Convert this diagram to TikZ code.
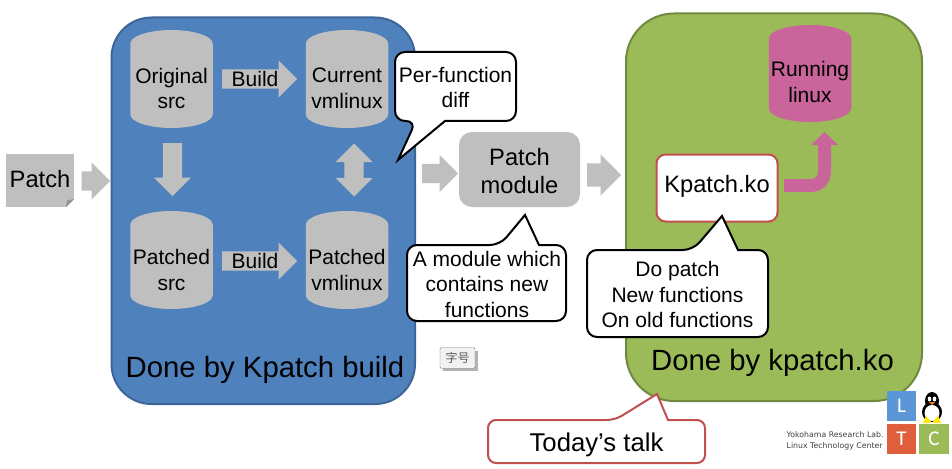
\documentclass[tikz,border=0pt]{standalone}
\usepackage{fontspec}
\setmainfont{Liberation Sans}
\newfontfamily\cjkfont{Noto Sans CJK SC}
\newfontfamily\logofont{Carlito}
\newfontfamily\labfont{DejaVu Sans}
\usetikzlibrary{arrows.meta,shapes.geometric,shapes.arrows}
\definecolor{graybox}{HTML}{BFBFBF}
\definecolor{bluebox}{HTML}{4F81BD}
\definecolor{blueedge}{HTML}{3E659A}
\definecolor{greenbox}{HTML}{9BBB59}
\definecolor{greenedge}{HTML}{71893F}
\definecolor{pinkbox}{HTML}{C9659A}
\definecolor{rededge}{HTML}{C0504D}
\definecolor{logoblue}{HTML}{5B96D6}
\definecolor{logored}{HTML}{DD5F3B}
\tikzset{
  area/.style={line width=2pt,rounded corners=40pt},
  drum/.style={cylinder,shape border rotate=90,shape aspect=.55,draw=none,fill=graybox,text width=50pt,text height=20pt,minimum height=98pt,minimum width=82.5pt,inner sep=0pt,anchor=shape center},
  blockarrow/.style={single arrow,fill=graybox,draw=none,inner xsep=0pt,inner ysep=9.5pt,minimum width=37pt,single arrow head extend=9pt,anchor=tail},
  callblack/.style={draw=black,fill=white,line width=2pt,rounded corners=10pt,line join=miter},
  callred/.style={draw=rededge,fill=white,line width=2pt,rounded corners=8pt,line join=miter},
  txt/.style={inner sep=0pt,align=center,font=\fontsize{21}{25.5}\selectfont},
  bigtxt/.style={inner sep=0pt,align=center,font=\fontsize{23.7}{28}\selectfont},
  donetxt/.style={inner sep=0pt,font=\fontsize{29.3}{32}\selectfont},
  logosq/.style={minimum width=29.5pt,minimum height=30pt,inner sep=0pt,text=white,font=\logofont\fontsize{21}{21}\selectfont}
}
\begin{document}
\begin{tikzpicture}[x=1pt,y=-1pt]
\useasboundingbox (0,0) rectangle (952,468);

\draw[area,draw=blueedge,fill=bluebox] (111.5,17.5) rectangle (415,404);
\draw[area,draw=greenedge,fill=greenbox,rounded corners=48pt] (626,13.5) rectangle (922,401);

\node[drum] (origsrc) at (171.5,79) {};
\node[drum] (curvm) at (347,79) {};
\node[drum] (patchsrc) at (171.5,260) {};
\node[drum] (patchvm) at (347,260) {};
\node[drum,fill=pinkbox,minimum height=97pt] (running) at (810,73.5) {};
\node[txt] (origtxt) at (171.5,88.5) {Original\\src};
\node[txt] (curtxt) at (347,88.5) {Current\\vmlinux};
\node[txt] (patchsrctxt) at (171.5,270) {Patched\\src};
\node[txt] (patchvmtxt) at (347,270) {Patched\\vmlinux};
\node[txt] (runtxt) at (810,82) {Running\\linux};

\node[rectangle,fill=graybox,minimum width=68pt,minimum height=53pt,inner sep=0pt,bigtxt,text height=17pt,text depth=4pt] (patch) at (40,180.5) {Patch};
\fill[white] (66,207.5) -- (74.5,207.5) -- (74.5,199) -- cycle;
\fill[gray!85] (66,207) -- (74,199) -- (67,200.5) -- cycle;

\node[blockarrow,minimum height=28.5pt] (patcharrow) at (81.5,181) {};
\node[blockarrow,minimum height=75pt] (buildup) at (222,79) {};
\node[blockarrow,minimum height=75pt] (builddown) at (222,261) {};
\node[txt] (buildupl) at (255,79) {Build};
\node[txt] (builddownl) at (255,261) {Build};
\node[blockarrow,minimum height=53pt,rotate=-90] (srcarrow) at (172.5,143) {};
\node[double arrow,fill=graybox,draw=none,inner xsep=0pt,inner ysep=9.5pt,rotate=90,minimum height=53pt,minimum width=37pt,double arrow head extend=9pt] (vmarrow) at (354,170) {};
\node[blockarrow,minimum height=36pt] (modarrow) at (422,173.5) {};
\node[blockarrow,minimum height=34pt,minimum width=41pt,inner ysep=11.5pt,single arrow head extend=9pt] (koarrow) at (587,175) {};

\node[rectangle,rounded corners=13pt,fill=graybox,minimum width=121pt,minimum height=75pt,inner sep=0pt] (module) at (519.5,169.5) {};
\node[bigtxt] (moduletxt) at (519.5,171) {Patch\\module};

\draw[callblack] (445,121) -- (516,121) -- (516,52) -- (395,52) -- (395,121) -- (416,121) [sharp corners] -- (398,160) -- cycle;
\node[txt] (difftxt) at (455.5,87.5) {Per-function\\diff};
\draw[callblack] (539,245) -- (566,245) -- (566,321) -- (407,321) -- (407,245) -- (500,245) [sharp corners] -- (525,215) -- cycle;
\node[txt] (newtxt) at (487,284) {A module which\\contains new\\functions};

\node[rectangle,draw=rededge,fill=white,line width=2pt,rounded corners=9pt,minimum width=121pt,minimum height=67pt,inner sep=0pt,bigtxt,text height=17pt,text depth=9pt] (kpatch) at (717,188) {Kpatch.ko};
\coordinate (bentstart) at (784,185.5);
\coordinate (benttip) at (824.5,132);
\draw[pinkbox,line width=13pt,rounded corners=13pt,-{Triangle[length=13pt,width=26pt]}] (bentstart) -| (benttip);

\draw[callblack] (738,250) -- (768,250) -- (768,337) -- (587,337) -- (587,250) -- (693,250) [sharp corners] -- (722,216) -- cycle;
\node[txt] (dotxt) at (677.5,294.5) {Do patch\\New functions\\On old functions};

\node[donetxt] (donebuild) at (265,370) {Done by Kpatch build};
\node[donetxt] (doneko) at (772.5,363) {Done by kpatch.ko};

\draw[callred] (668,420) -- (705,420) -- (705,463) -- (488,463) -- (488,420) -- (615,420) [sharp corners] -- (657,394) -- cycle;
\node[inner sep=0pt,font=\fontsize{25.7}{28}\selectfont] (talk) at (596.5,445) {Today’s talk};

\fill[black!30] (443,351) rectangle (478,371);
\node[draw=black!55,fill=black!5,rounded corners=1pt,minimum width=35pt,minimum height=20.5pt,inner sep=0pt,text=black!65,font=\cjkfont\fontsize{12}{12}\selectfont] (sizebtn) at (457.5,358) {字号};

\node[logosq,fill=logoblue] (logol) at (901.5,406) {L};
\node[logosq,fill=logored] (logot) at (901.5,439) {T};
\node[logosq,fill=greenbox] (logoc) at (934,439) {C};
\fill[black] (932,401) ellipse (7 and 9);
\fill[black] (932,412) ellipse (10 and 10);
\fill[white] (932,413) ellipse (7.5 and 8);
\fill[white] (929.5,399) ellipse (1.8 and 2.5) (934.5,399) ellipse (1.8 and 2.5);
\fill[orange] (929,402) -- (935,402) -- (932,405) -- cycle;
\fill[yellow!90!orange] (923,423) -- (926,416) -- (931,421.5) -- (930,423) -- cycle;
\fill[yellow!90!orange] (941,423) -- (938,416) -- (933,421.5) -- (934,423) -- cycle;
\node[inner sep=0pt,anchor=west,align=left,text=black!75,font=\labfont\fontsize{7.8}{11}\selectfont] (labtxt) at (786.5,441) {Yokohama Research Lab.\\Linux Technology Center};

\end{tikzpicture}
\end{document}
